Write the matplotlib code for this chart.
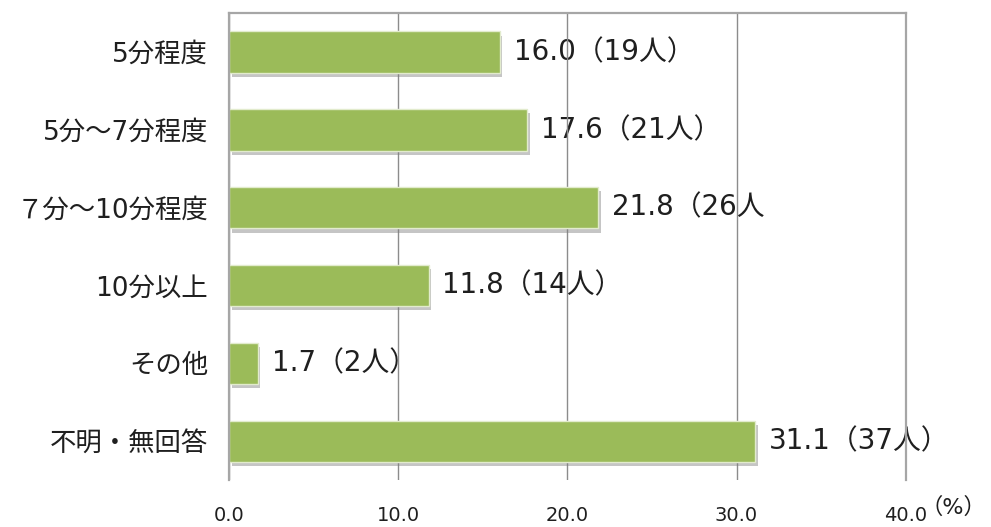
import matplotlib.pyplot as plt
import matplotlib.patheffects as pe

plt.rcParams['font.family'] = ['DejaVu Sans', 'Noto Sans CJK JP']

categories = ['5分程度', '5分～7分程度', '７分～10分程度', '10分以上', 'その他', '不明・無回答']
percent = [16.0, 17.6, 21.8, 11.8, 1.7, 31.1]
labels = ['16.0（19人）', '17.6（21人）', '21.8（26人', '11.8（14人）', '1.7（2人）', '31.1（37人）']
xticks = [0, 10, 20, 30, 40]
xticklabels = ['0.0', '10.0', '20.0', '30.0', '40.0']

fig = plt.figure(figsize=(9.91, 5.27), dpi=100)
ax = fig.add_axes([0.231, 0.089, 0.683, 0.886])

pos = list(range(len(categories)))
shadow = [pe.SimplePatchShadow(offset=(2, -3), shadow_rgbFace='#7f7f7f', alpha=0.45), pe.Normal()]
bars = ax.barh(pos, percent, height=0.53, color='#9BBB59', edgecolor='#E2EBCD',
               linewidth=1, zorder=2)
for b in bars:
    b.set_path_effects(shadow)

for p, v, t in zip(pos, percent, labels):
    ax.annotate(t, (v, p), xytext=(10, 0), textcoords='offset points',
                va='center', ha='left', fontsize=20, color='#1f1f1f', zorder=0.3)

ax.set_xlim(0, 40)
ax.set_ylim(5.5, -0.5)
ax.set_yticks(pos)
ax.set_yticklabels(categories, fontsize=19, color='#1f1f1f')
ax.set_xticks(xticks)
ax.set_xticklabels(xticklabels, fontsize=14, color='#1f1f1f')
ax.tick_params(axis='both', length=0)
ax.tick_params(axis='y', pad=15)
ax.tick_params(axis='x', pad=19)

ax.set_axisbelow(True)
ax.grid(axis='x', color='#8c8c8c', linewidth=1)
ax.grid(axis='y', visible=False)

for s in ['top', 'left', 'right']:
    ax.spines[s].set_color('#a6a6a6')
    ax.spines[s].set_linewidth(1.6)
ax.spines['bottom'].set_visible(False)

fig.text(0.929, 0.024, '（%）', fontsize=16, color='#1f1f1f', ha='left', va='baseline')

fig.savefig('out.png', dpi=100)
